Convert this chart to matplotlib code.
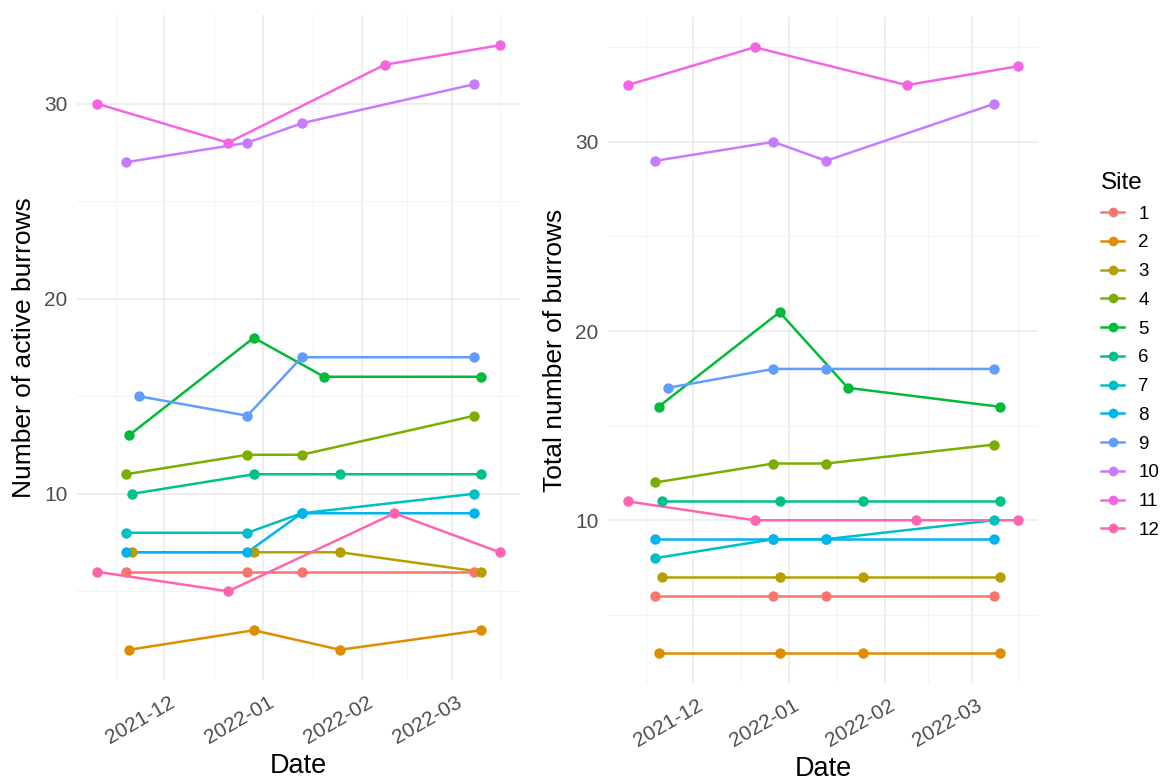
import matplotlib.pyplot as plt
import matplotlib.dates as mdates
import matplotlib.transforms as mtransforms
from matplotlib.lines import Line2D
import numpy as np
import pandas as pd

plt.rcParams['font.family'] = ['Liberation Sans', 'DejaVu Sans']

# data
sites = ['1', '2', '3', '4', '5', '6', '7', '8', '9', '10', '11', '12']
site_dates = {
    '1': ['2021-11-19', '2021-12-27', '2022-01-13', '2022-03-08'],
    '2': ['2021-11-20', '2021-12-29', '2022-01-25', '2022-03-10'],
    '3': ['2021-11-21', '2021-12-29', '2022-01-25', '2022-03-10'],
    '4': ['2021-11-19', '2021-12-27', '2022-01-13', '2022-03-08'],
    '5': ['2021-11-20', '2021-12-29', '2022-01-20', '2022-03-10'],
    '6': ['2021-11-21', '2021-12-29', '2022-01-25', '2022-03-10'],
    '7': ['2021-11-19', '2021-12-27', '2022-01-13', '2022-03-08'],
    '8': ['2021-11-19', '2021-12-27', '2022-01-13', '2022-03-08'],
    '9': ['2021-11-23', '2021-12-27', '2022-01-13', '2022-03-08'],
    '10': ['2021-11-19', '2021-12-27', '2022-01-13', '2022-03-08'],
    '11': ['2021-11-10', '2021-12-21', '2022-02-08', '2022-03-16'],
    '12': ['2021-11-10', '2021-12-21', '2022-02-11', '2022-03-16'],
}
active = {
    '1': [6, 6, 6, 6],
    '2': [2, 3, 2, 3],
    '3': [7, 7, 7, 6],
    '4': [11, 12, 12, 14],
    '5': [13, 18, 16, 16],
    '6': [10, 11, 11, 11],
    '7': [8, 8, 9, 10],
    '8': [7, 7, 9, 9],
    '9': [15, 14, 17, 17],
    '10': [27, 28, 29, 31],
    '11': [30, 28, 32, 33],
    '12': [6, 5, 9, 7],
}
total = {
    '1': [6, 6, 6, 6],
    '2': [3, 3, 3, 3],
    '3': [7, 7, 7, 7],
    '4': [12, 13, 13, 14],
    '5': [16, 21, 17, 16],
    '6': [11, 11, 11, 11],
    '7': [8, 9, 9, 10],
    '8': [9, 9, 9, 9],
    '9': [17, 18, 18, 18],
    '10': [29, 30, 29, 32],
    '11': [33, 35, 33, 34],
    '12': [11, 10, 10, 10],
}
colors = ['#F8766D', '#DE8C00', '#B79F00', '#7CAE00', '#00BA38', '#00C08B',
          '#00BFC4', '#00B4F0', '#619CFF', '#C77CFF', '#F564E3', '#FF64B0']

W, H = 1176, 783
fig = plt.figure(figsize=(W / 100, H / 100), dpi=100)
fig.patch.set_facecolor('white')


def px_axes(x0, y0, x1, y1):
    return fig.add_axes([x0 / W, 1 - y1 / H, (x1 - x0) / W, (y1 - y0) / H])


def expand(lo, hi, frac=0.05):
    d = (hi - lo) * frac
    return lo - d, hi + d


def draw_panel(ax, values, ylabel):
    # lines first, then points (like geom_line + geom_point)
    for s, c in zip(sites, colors):
        d = pd.to_datetime(site_dates[s])
        ax.plot(d, values[s], color=c, lw=1.8, zorder=3, solid_capstyle='round')
    for s, c in zip(sites, colors):
        d = pd.to_datetime(site_dates[s])
        ax.plot(d, values[s], 'o', color=c, ms=7.5, zorder=4, mec='none')

    all_d = pd.to_datetime(sum(site_dates.values(), []))
    lo, hi = mdates.date2num(all_d.min()), mdates.date2num(all_d.max())
    ax.set_xlim(*expand(lo, hi))
    vals = np.concatenate([values[s] for s in sites])
    ax.set_ylim(*expand(vals.min(), vals.max()))

    ax.xaxis.set_major_locator(mdates.MonthLocator())
    ax.xaxis.set_major_formatter(mdates.DateFormatter('%Y-%m'))
    maj = np.array(ax.xaxis.get_majorticklocs())
    step = np.diff(maj).mean()
    minors = np.concatenate([[maj[0] - step / 2], (maj[:-1] + maj[1:]) / 2, [maj[-1] + step / 2]])
    ax.xaxis.set_minor_locator(plt.FixedLocator(minors))
    ax.yaxis.set_major_locator(plt.MultipleLocator(10))
    ax.yaxis.set_minor_locator(plt.MultipleLocator(5))

    ax.grid(which='major', color='#EBEBEB', lw=1.2, zorder=0)
    ax.grid(which='minor', color='#F3F3F3', lw=0.8, zorder=0)
    for sp in ax.spines.values():
        sp.set_visible(False)
    ax.tick_params(which='both', length=0)
    ax.tick_params(axis='y', labelsize=15, labelcolor='#4D4D4D', pad=7)
    ax.tick_params(axis='x', labelsize=15, labelcolor='#4D4D4D', pad=9)
    off = mtransforms.ScaledTranslation(4 / 100, 0, fig.dpi_scale_trans)
    for lab in ax.get_xticklabels():
        lab.set_rotation(30)
        lab.set_ha('right')
        lab.set_va('top')
        lab.set_rotation_mode('anchor')
        lab.set_transform(lab.get_transform() + off)
    ax.set_xlabel('Date', fontsize=19.5, labelpad=4)
    ax.set_ylabel(ylabel, fontsize=19, labelpad=6)


ax1 = px_axes(77, 15, 520, 680)
draw_panel(ax1, active, 'Number of active burrows')
ax2 = px_axes(608, 17, 1038, 683)
draw_panel(ax2, total, 'Total number of burrows')

handles = [Line2D([0], [0], color=c, lw=1.8, marker='o', ms=7, mec='none') for c in colors]
leg = fig.legend(handles, sites, title='Site', loc='upper left',
                 bbox_to_anchor=(1084 / W, 1 - 155 / H), frameon=False,
                 fontsize=13.5, title_fontsize=17.5, handlelength=1.25,
                 labelspacing=0.62, handletextpad=0.75)
leg._legend_box.align = 'left'

fig.savefig('out.png', dpi=100)
